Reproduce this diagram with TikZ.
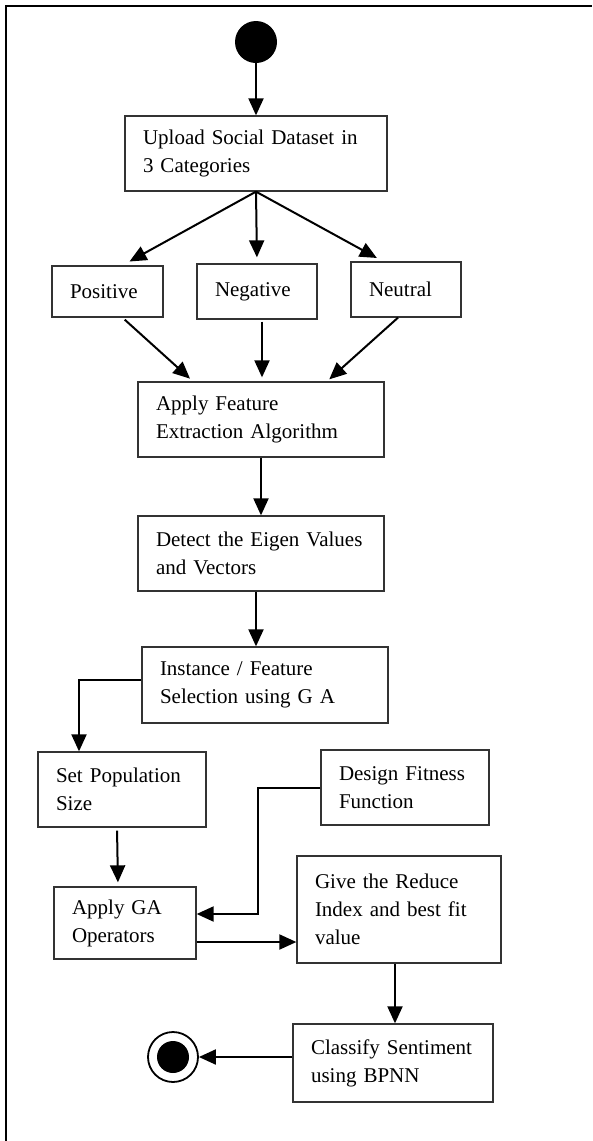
\documentclass[tikz,border=0pt]{standalone}
\usepackage{fontspec}
\setmainfont{Liberation Serif}
\usetikzlibrary{arrows.meta}

\begin{document}
\begin{tikzpicture}[x=1pt, y=-1pt,
	stepbox/.style={draw=black!80, line width=1.3pt, align=left, inner xsep=18pt, inner ysep=2pt, font=\fontsize{21}{28}\selectfont},
	flow/.style={-{Triangle[length=17pt,width=15pt]}, line width=2pt}]
	\useasboundingbox (0,0) rectangle (592,1141);
	\draw[line width=2.5pt] (6,1141) -- (6,6) -- (592,6);
	\node(Start)[circle, fill, minimum size=42pt, inner sep=0pt] at (256,42){};
	\node(Up)[stepbox, text width=226pt, minimum height=75pt] at (256,153.5){Upload Social Dataset in\\3 Categories};
	\node(Pos)[stepbox, text width=75pt, minimum height=51pt] at (107.5,291.5){Positive};
	\node(Neg)[stepbox, text width=84pt, minimum height=55pt] at (257,291.5){Negative};
	\node(Neu)[stepbox, text width=74pt, minimum height=55pt] at (406,289.5){Neutral};
	\node(Feat)[stepbox, text width=210pt, minimum height=75pt] at (261,419.5){Apply Feature\\Extraction Algorithm};
	\node(Eig)[stepbox, text width=210pt, minimum height=75pt] at (261,553.5){Detect the Eigen Values\\and Vectors};
	\node(Inst)[stepbox, text width=210pt, minimum height=76pt] at (265,685){Instance / Feature\\Selection using G A};
	\node(Pop)[stepbox, text width=132pt, minimum height=75pt] at (122,789.5){Set Population\\Size};
	\node(Fit)[stepbox, text width=132pt, minimum height=75pt] at (405,787.5){Design Fitness\\Function};
	\node(Ops)[stepbox, text width=106pt, minimum height=72pt] at (125,923){Apply GA\\Operators};
	\node(Red)[stepbox, text width=168pt, minimum height=107pt] at (399,909.5){Give the Reduce\\Index and best fit\\value};
	\node(Cls)[stepbox, text width=164pt, minimum height=78pt] at (393,1063){Classify Sentiment\\using BPNN};
	\node(Fin)[circle, draw, line width=1.8pt, minimum size=50pt, inner sep=0pt] at (173,1057){};
	\node(FinDot)[circle, fill, minimum size=32pt, inner sep=0pt] at (Fin){};
	\draw [flow] (Start) -- (Up);
	\draw [flow, shorten >=8pt] (Up.south) -- ([xshift=15pt]Pos.north);
	\draw [flow, shorten >=6pt] (Up.south) -- (Neg.north);
	\draw [flow, shorten >=7pt] (Up.south) -- ([xshift=-23pt]Neu.north);
	\draw [flow, shorten >=4pt, shorten <=3pt] ([xshift=15pt]Pos.south) -- ([xshift=-68pt]Feat.north);
	\draw [flow, shorten >=4pt, shorten <=2pt] ([xshift=5pt]Neg.south) -- ([xshift=5pt]Neg.south |- Feat.north);
	\draw [flow, shorten >=3pt] ([xshift=-8pt]Neu.south) -- ([xshift=66pt]Feat.north);
	\draw [flow] (Feat) -- (Eig);
	\draw [flow] ([xshift=-5pt]Eig.south) -- ([xshift=-5pt]Eig.south |- Inst.north);
	\draw [flow] ([yshift=5pt]Inst.west) -| ([xshift=-43pt]Pop.north);
	\draw [flow, shorten >=4pt, shorten <=3pt] ([xshift=-5pt]Pop.south) -- ([xshift=-7pt]Ops.north);
	\draw [flow] (Fit.west) -- ++(-62,0) |- ([yshift=9pt]Ops.east);
	\draw [flow] ([yshift=-19pt]Ops.east) -- ([yshift=-19pt]Ops.east -| Red.west);
	\draw [flow] ([xshift=-4pt]Red.south) -- ([xshift=-4pt]Red.south |- Cls.north);
	\draw [flow] (Fin -| Cls.west) -- (Fin);
\end{tikzpicture}
\end{document}
